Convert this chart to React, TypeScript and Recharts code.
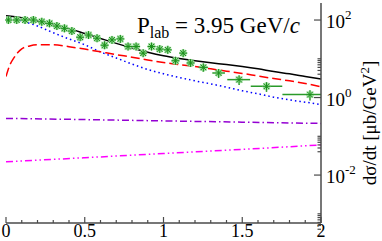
import React from 'react';
import { ComposedChart, Line, Scatter, ErrorBar, XAxis, YAxis } from 'recharts';

// |t| grid used for the model curves
const curveT = [0, 0.1, 0.2, 0.3, 0.4, 0.5, 0.6, 0.7, 0.8, 0.9, 1.0, 1.1, 1.2, 1.3, 1.4, 1.5, 1.6, 1.7, 1.8, 1.9, 2.0];
const totalXs = [129, 115, 94, 74, 60, 45, 33.5, 25, 19, 14.8, 12, 10.2, 8.9, 7.9, 7.1, 6.3, 5.5, 4.7, 4.1, 3.5, 3.0];
const dottedXs = [110, 94, 70, 47, 32.5, 23, 15, 10.5, 7.3, 5.3, 4.1, 3.3, 2.7, 2.25, 1.85, 1.5, 1.25, 1.02, 0.87, 0.76, 0.66];

const dashedT = [0, 0.025, 0.05, 0.075, 0.1, 0.15, 0.2, 0.3, 0.4, 0.5, 0.6, 0.7, 0.8, 0.9, 1.0, 1.1, 1.2, 1.3, 1.4, 1.5, 1.6, 1.7, 1.8, 1.9, 2.0];
const dashedXs = [3.5, 7, 10.5, 14.5, 18, 21.5, 23, 23, 20.5, 17.8, 15.1, 12.8, 11, 9.3, 8.0, 7.1, 6.3, 5.5, 4.8, 4.2, 3.6, 3.1, 2.7, 2.3, 1.9];

const flatT = [0, 0.5, 1.0, 1.5, 2.0];
const dashDotXs = [0.29, 0.27, 0.25, 0.232, 0.215];
const dashDotDotXs = [0.022, 0.028, 0.036, 0.046, 0.06];

// measured points
const dataT = [0.015, 0.068, 0.121, 0.174, 0.227, 0.276, 0.323, 0.371, 0.418, 0.471, 0.524, 0.578, 0.626, 0.673, 0.726, 0.775, 0.826, 0.871, 0.924, 0.976, 1.027, 1.076, 1.125, 1.172, 1.253, 1.35, 1.48, 1.654, 1.93];
const dataXs = [100, 100, 100, 100, 90, 82, 70, 61, 52, 36, 41, 34, 22.4, 30.7, 32.6, 20.7, 20.7, 14, 20.7, 17.8, 17, 8.9, 14, 7.8, 6.0, 4.3, 2.9, 1.95, 1.19];
const dataErrY = [15, 15, 15, 15, 14, 12, 10, 9, 8, 6, 6, 5, 4, 5, 5, 3.5, 3.5, 2.5, 3.5, 3, 3, 1.8, 2.5, 1.6, 1.4, 1.1, 0.8, 0.55, 0.35];
const dataErrTLow = [0.02, 0.02, 0.02, 0.02, 0.02, 0.02, 0.02, 0.02, 0.02, 0.02, 0.02, 0.02, 0.02, 0.02, 0.02, 0.02, 0.02, 0.02, 0.02, 0.02, 0.02, 0.02, 0.02, 0.02, 0.03, 0.04, 0.075, 0.1, 0.175];
const dataErrTHigh = [0.02, 0.02, 0.02, 0.02, 0.02, 0.02, 0.02, 0.02, 0.02, 0.02, 0.02, 0.02, 0.02, 0.02, 0.02, 0.02, 0.02, 0.02, 0.02, 0.02, 0.02, 0.02, 0.02, 0.02, 0.03, 0.04, 0.07, 0.1, 0.07];

const xTicks = [0, 0.1, 0.2, 0.3, 0.4, 0.5, 0.6, 0.7, 0.8, 0.9, 1, 1.1, 1.2, 1.3, 1.4, 1.5, 1.6, 1.7, 1.8, 1.9, 2];
const xMajor = [0, 0.5, 1, 1.5, 2];
const xLabels = ['0', '0.5', '1', '1.5', '2'];
const yMajor = [0.01, 1, 100];
const yMinor = [0.0004, 0.0005, 0.0006, 0.0007, 0.0008, 0.0009, 0.001, 0.04, 0.05, 0.06, 0.07, 0.08, 0.09, 0.1, 4, 5, 6, 7, 8, 9, 10];
const yTicks = [...yMinor, ...yMajor].sort((a, b) => a - b);

const pts = (t: number[], v: number[]) => t.map((x, i) => ({ x, y: v[i] }));
const measured = dataT.map((x, i) => ({
  x,
  y: dataXs[i],
  ey: dataErrY[i],
  ex: [dataErrTLow[i], dataErrTHigh[i]],
}));

const frame = '#4a4a4a';
const serif = 'Liberation Serif';

const isMajorX = (v: number) => xMajor.some((m) => Math.abs(m - v) < 1e-6);
const isMajorY = (v: number) => yMajor.some((m) => Math.abs(m / v - 1) < 1e-6);

const BottomTick = (p: any) => {
  const v = p.payload.value;
  const major = isMajorX(v);
  const idx = xMajor.findIndex((m) => Math.abs(m - v) < 1e-6);
  return (
    <g>
      <line x1={p.x} x2={p.x} y1={p.y} y2={p.y - (major ? 6 : 3)} stroke={frame} strokeWidth={1.2} />
      {major && (
        <text x={p.x} y={p.y + 14} textAnchor="middle" style={{ fontFamily: serif }} fontSize={18} fill="#000">
          {xLabels[idx]}
        </text>
      )}
    </g>
  );
};

const TopTick = (p: any) => {
  const major = isMajorX(p.payload.value);
  return <line x1={p.x} x2={p.x} y1={p.y} y2={p.y + (major ? 6 : 3)} stroke={frame} strokeWidth={1.2} />;
};

const RightTick = (p: any) => {
  const v = p.payload.value;
  const major = isMajorY(v);
  const exp = Math.round(Math.log10(v));
  return (
    <g>
      <line x1={p.x} x2={p.x - (major ? 7 : 3.5)} y1={p.y} y2={p.y} stroke={frame} strokeWidth={1.2} />
      {major && (
        <text x={p.x + 5} y={p.y + 8} style={{ fontFamily: serif }} fontSize={19} fill="#000">
          10
          <tspan dy={-9} fontSize={13}>{String(exp)}</tspan>
        </text>
      )}
    </g>
  );
};

const LeftTick = (p: any) => {
  const major = isMajorY(p.payload.value);
  return <line x1={p.x} x2={p.x + (major ? 7 : 3.5)} y1={p.y} y2={p.y} stroke={frame} strokeWidth={1.2} />;
};

const Star = (p: any) => {
  const { cx, cy } = p;
  if (cx == null || cy == null) return null;
  const r = 4;
  const d = r * 0.72;
  const path = `M${cx - r},${cy}H${cx + r}M${cx},${cy - r}V${cy + r}M${cx - d},${cy - d}L${cx + d},${cy + d}M${cx - d},${cy + d}L${cx + d},${cy - d}`;
  return (
    <g>
      <path d={path} stroke="#9ddc9d" strokeWidth={2.4} />
      <path d={path} stroke="#1a8f1a" strokeWidth={1} />
    </g>
  );
};

export default function App() {
  return (
    <div style={{ position: 'absolute', left: 0, top: 0, width: 382, height: 241, background: '#fff' }}>
      <ComposedChart width={382} height={241} margin={{ top: 3, right: 0, bottom: 0, left: 6 }}>
        <XAxis
          xAxisId={0}
          type="number"
          dataKey="x"
          domain={[0, 2]}
          ticks={xTicks}
          interval={0}
          height={18}
          tickSize={0}
          tickMargin={0}
          tickLine={false}
          axisLine={{ stroke: frame, strokeWidth: 1.5 }}
          tick={(p: any) => <BottomTick {...p} />}
          allowDataOverflow
        />
        <XAxis
          xAxisId="top"
          orientation="top"
          type="number"
          dataKey="x"
          domain={[0, 2]}
          ticks={xTicks}
          interval={0}
          height={0}
          tickSize={0}
          tickMargin={0}
          tickLine={false}
          axisLine={{ stroke: frame, strokeWidth: 1.5 }}
          tick={(p: any) => <TopTick {...p} />}
          allowDataOverflow
        />
        <YAxis
          yAxisId={0}
          orientation="right"
          scale="log"
          type="number"
          domain={[5.8e-4, 275]}
          ticks={yTicks}
          interval={0}
          width={61}
          tickSize={0}
          tickMargin={0}
          tickLine={false}
          axisLine={{ stroke: frame, strokeWidth: 1.5 }}
          tick={(p: any) => <RightTick {...p} />}
          allowDataOverflow
        />
        <YAxis
          yAxisId="left"
          orientation="left"
          scale="log"
          type="number"
          domain={[5.8e-4, 275]}
          ticks={yTicks}
          interval={0}
          width={0}
          tickSize={0}
          tickMargin={0}
          tickLine={false}
          axisLine={{ stroke: frame, strokeWidth: 1.5 }}
          tick={(p: any) => <LeftTick {...p} />}
          allowDataOverflow
        />
        <Line data={pts(flatT, dashDotDotXs)} dataKey="y" type="monotone" stroke="#ff00ff" strokeWidth={1.5} strokeDasharray="7 3 1.5 3 1.5 3" dot={false} isAnimationActive={false} />
        <Line data={pts(flatT, dashDotXs)} dataKey="y" type="monotone" stroke="#9400d3" strokeWidth={1.5} strokeDasharray="7 3 1.5 3" dot={false} isAnimationActive={false} />
        <Line data={pts(curveT, dottedXs)} dataKey="y" type="monotone" stroke="#0000ff" strokeWidth={1.5} strokeDasharray="1.5 3" dot={false} isAnimationActive={false} />
        <Line data={pts(dashedT, dashedXs)} dataKey="y" type="monotone" stroke="#ff0000" strokeWidth={1.5} strokeDasharray="9 4" dot={false} isAnimationActive={false} />
        <Scatter data={measured} dataKey="y" shape={(p: any) => <Star {...p} />} isAnimationActive={false}>
          <ErrorBar dataKey="ex" direction="x" width={0} stroke="#2a9a2a" strokeWidth={1.5} />
          <ErrorBar dataKey="ey" direction="y" width={0} stroke="#2a9a2a" strokeWidth={1.5} />
        </Scatter>
        <Line data={pts(curveT, totalXs)} dataKey="y" type="monotone" stroke="#000" strokeWidth={1.5} dot={false} isAnimationActive={false} />
      </ComposedChart>
      <svg width={382} height={241} style={{ position: 'absolute', left: 0, top: 0, pointerEvents: 'none' }}>
        <text x={137} y={33} style={{ fontFamily: serif }} fontSize={23} fill="#000">
          P<tspan dy={5} fontSize={16}>lab</tspan>
          <tspan dy={-5}> = 3.95 GeV/</tspan>
          <tspan fontStyle="italic">c</tspan>
        </text>
        <text transform="translate(376,123) rotate(-90)" textAnchor="middle" style={{ fontFamily: serif }} fontSize={19} fill="#000">
          dσ/dt [μb/GeV<tspan dy={-7} fontSize={13}>2</tspan>
          <tspan dy={7}>]</tspan>
        </text>
      </svg>
    </div>
  );
}
